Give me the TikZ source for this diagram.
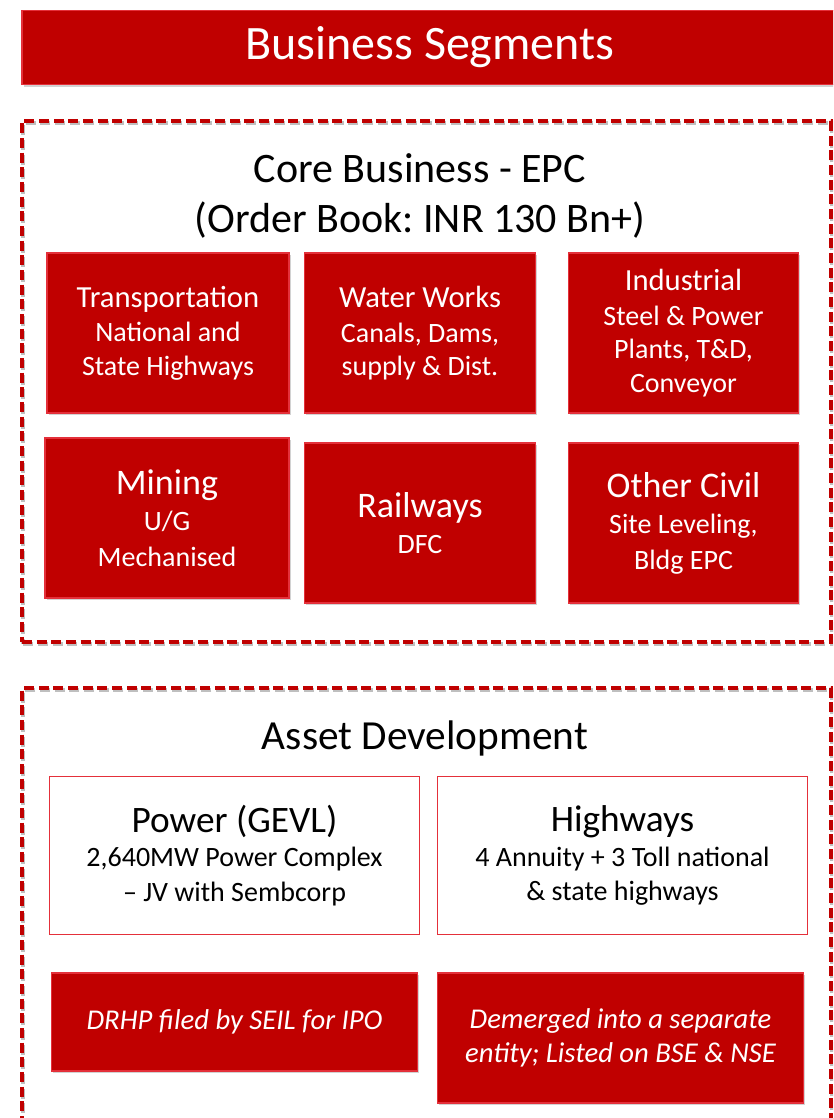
\documentclass[tikz,border=0pt]{standalone}
\usepackage{fontspec}
\setmainfont{Carlito}
\usepackage{xcolor}
\usepackage{tikz}
\usetikzlibrary{fit,shadows}
\definecolor{segred}{HTML}{C00000}
\definecolor{segedge}{HTML}{E4303A}
\definecolor{shadowgray}{HTML}{7F7F7F}
\newcommand\segtitle{\fontsize{23}{27}\selectfont}
\newcommand\segbig{\fontsize{27}{30}\selectfont}
\frenchspacing
\tikzset{
  boxshadow/.style={
    drop shadow={shadow xshift=1.2pt, shadow yshift=-1.8pt, opacity=.35, fill=shadowgray}
  },
  headbox/.style={
    boxshadow,
    draw=segedge,
    fill=segred,
    text=white,
    line width=0.8pt,
    minimum width=612pt,
    minimum height=56pt,
    font=\fontsize{36}{40}\selectfont
  },
  segbox/.style={
    boxshadow,
    draw=segedge,
    fill=segred,
    text=white,
    line width=0.8pt,
    align=center,
    minimum width=173pt,
    minimum height=120pt,
    inner sep=2pt,
    font=\fontsize{21}{25}\selectfont
  },
  assetbox/.style={
    draw=segedge,
    fill=white,
    line width=0.8pt,
    align=center,
    minimum width=277pt,
    minimum height=119pt,
    font=\fontsize{21}{26}\selectfont
  },
  notebox/.style={
    boxshadow,
    draw=segedge,
    fill=segred,
    text=white,
    line width=0.8pt,
    align=center,
    minimum width=274pt,
    font=\fontsize{21.5}{26}\selectfont\itshape
  },
  frame/.style={
    draw=segred,
    line width=3pt,
    dash pattern=on 7.5pt off 3.5pt,
    inner sep=0pt,
    preaction={draw=black!25, line width=3pt, dash pattern=on 7.5pt off 3.5pt,
      transform canvas={xshift=1pt, yshift=-1.5pt}}
  }
}

\begin{document}
\begin{tikzpicture}[x=0.75pt, y=-0.75pt]
    \useasboundingbox (0,0) rectangle (833,1118);
    \clip (0,0) rectangle (833,1118);

    \node[headbox] (head) at (430,47.5) {Business Segments};

    % EPC block
    \node[frame, fit={(22,121) (831,642)}] (core) {};
    \node[align=center, font=\fontsize{31.5}{37.5}\selectfont] (coretitle) at (420,196)
        {Core Business - EPC\\(Order Book: INR 130 Bn+)};

    \node[segbox, minimum width=181.5pt] (transport) at (168,333)
        {{\segtitle Transportation}\\[1pt]National and\\State Highways};
    \node[segbox] (water) at (420,333)
        {{\segtitle Water Works}\\[1pt]Canals, Dams,\\supply \& Dist.};
    \node[segbox] (industrial) at (683.5,333)
        {{\segtitle Industrial}\\[1pt]Steel \& Power\\Plants, T\&D,\\Conveyor};
    \node[segbox, minimum width=183pt, font=\fontsize{21}{27}\selectfont] (mining) at (167,518)
        {{\segbig Mining}\\U/G\\Mechanised};
    \node[segbox, font=\fontsize{21}{27}\selectfont] (rail) at (420,523)
        {{\segbig Railways}\\DFC};
    \node[segbox, font=\fontsize{21}{27}\selectfont] (civil) at (683.5,523)
        {{\segbig Other Civil}\\Site Leveling,\\Bldg EPC};

    % asset development block
    \node[frame, fit={(22,688) (831,1150)}] (asset) {};
    \node[font=\fontsize{31}{36}\selectfont] (assettitle) at (425,738) {Asset Development};

    \node[assetbox] (power) at (234.5,855.5)
        {{\fontsize{28}{32}\selectfont Power (GEVL)}\\2,640MW Power Complex\\-- JV with Sembcorp};
    \node[assetbox] (highway) at (622.5,855.5)
        {{\fontsize{28}{32}\selectfont Highways}\\4 Annuity + 3 Toll national\\\& state highways};

    \node[notebox, minimum height=73.5pt] (drhp) at (234.5,1022)
        {DRHP filed by SEIL for IPO};
    \node[notebox, minimum height=97.5pt] (demerge) at (620.5,1038)
        {Demerged into a separate\\entity; Listed on BSE \& NSE};
\end{tikzpicture}
\end{document}
